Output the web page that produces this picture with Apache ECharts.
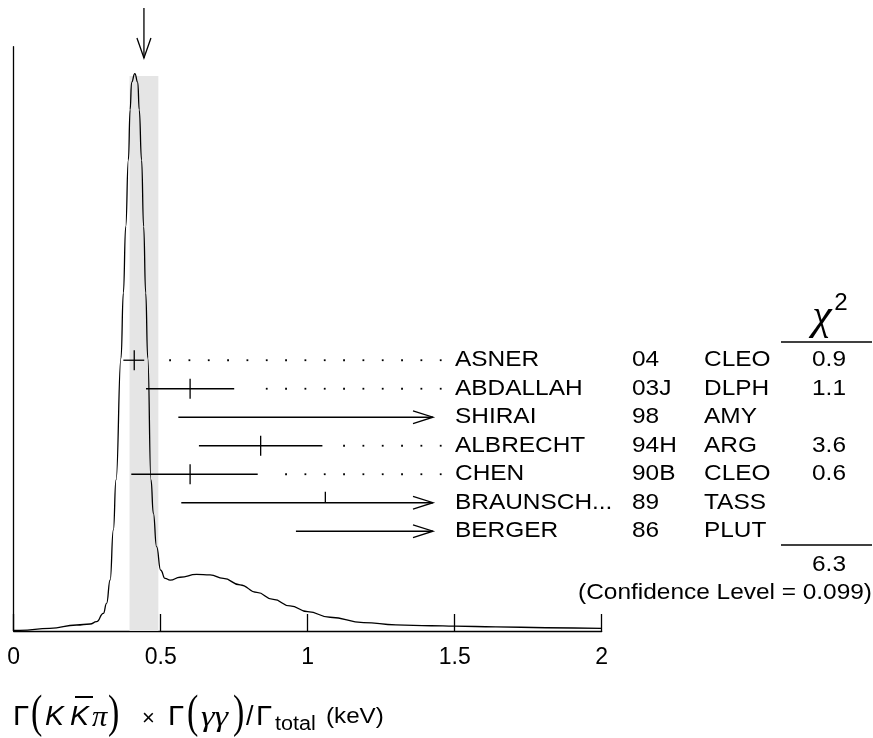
<!DOCTYPE html>
<html><head><meta charset="utf-8">
<script src="https://cdn.jsdelivr.net/npm/echarts@6/dist/echarts.min.js"></script>
<style>html,body{margin:0;padding:0;background:#fff}#c{width:873px;height:738px}</style>
</head><body><div id="c"></div>
<script>
// ---------- data ----------
const xTickLabels = ['0', '0.5', '1', '1.5', '2'];

// ideogram curve (x in keV, y in relative height units, 0..100 = axis)
const curveX = [0, 0.021, 0.123, 0.214, 0.26, 0.282, 0.305, 0.316, 0.328, 0.339, 0.348, 0.365, 0.373, 0.381, 0.390, 0.396, 0.401, 0.412, 0.422, 0.427, 0.435, 0.442, 0.449, 0.456, 0.467, 0.475, 0.486, 0.5, 0.515, 0.532, 0.566, 0.622, 0.668, 0.713, 0.77, 0.827, 0.883, 0.94, 1.0, 1.076, 1.19, 1.30, 1.42, 1.5, 1.64, 1.81, 2.0];
const curveY = [0.09, 0.12, 0.46, 1.03, 1.2, 1.59, 3.03, 4.74, 8.73, 17.29, 25.85, 46.72, 57.85, 69.2, 80.6, 89.2, 93.9, 95.4, 93.9, 89.2, 80.6, 69.2, 57.85, 46.72, 25.85, 20.14, 14.43, 10.4, 9.0, 8.7, 9.2, 9.7, 9.6, 9.0, 7.9, 6.6, 5.4, 4.3, 3.3, 2.35, 1.45, 1.05, 0.9, 0.82, 0.72, 0.56, 0.45];

const avgValue = 0.443;
const avgError = 0.049;
const bandTop = 95;

const names = ['ASNER', 'ABDALLAH', 'SHIRAI', 'ALBRECHT', 'CHEN', 'BRAUNSCH...', 'BERGER'];
const years = ['04', '03J', '98', '94H', '90B', '89', '86'];
const experiments = ['CLEO', 'DLPH', 'AMY', 'ARG', 'CLEO', 'TASS', 'PLUT'];
const chi2 = ['0.9', '1.1', '', '3.6', '0.6', '', ''];
const rowValue = [0.41, 0.60, null, 0.84, 0.60, 1.06, null];
const rowLow = [0.373, 0.45, 0.56, 0.63, 0.40, 0.57, 0.96];
const rowHigh = [0.444, 0.75, null, 1.05, 0.83, null, null];
const chi2Total = '6.3';
const confidenceText = '(Confidence Level = 0.099)';
const averageText = '0.44\u00b10.05 (Error scaled by 1.0)';

// ---------- layout ----------
const FONT = 'Liberation Sans';
const SERIF = 'Liberation Serif';
const SX = 1.11;
const NAME_X = 455, YEAR_X = 632, EXP_X = 704, CHI_X = 829;
const DOT_STEP = 19.33;
const INK = '#000';
const LW = 1.3;

function txt(text, x, y, opt) {
  opt = opt || {};
  return {
    type: 'text', x: x, y: y, scaleX: opt.scaleX == null ? SX : opt.scaleX, scaleY: opt.scaleY || 1,
    style: {
      text: text, fontSize: opt.size || 22, fontFamily: opt.family || FONT,
      fontStyle: opt.italic ? 'italic' : 'normal', fill: INK,
      align: opt.align || 'left', verticalAlign: 'middle'
    }
  };
}

const chart = echarts.init(document.getElementById('c'), null, {renderer: 'canvas'});

function renderBand(params, api) {
  const p0 = api.coord([avgValue - avgError, 0]);
  const p1 = api.coord([avgValue + avgError, bandTop]);
  const pa = api.coord([avgValue, bandTop]);
  const tipY = p1[1] - 18;
  const topY = tipY - 50;
  return {
    type: 'group',
    children: [
      {type: 'rect', shape: {x: p0[0], y: p1[1], width: p1[0] - p0[0], height: p0[1] - p1[1]}, style: {fill: '#e5e5e5'}},
      {type: 'line', shape: {x1: pa[0], y1: topY, x2: pa[0], y2: tipY}, style: {stroke: INK, lineWidth: LW}},
      {type: 'polyline', shape: {points: [[pa[0] - 7, tipY - 20], [pa[0], tipY], [pa[0] + 7, tipY - 20]]}, style: {stroke: INK, lineWidth: LW, fill: null}}
    ]
  };
}

function renderRow(params, api) {
  const i = params.dataIndex;
  const y = api.coord([0, i])[1];
  const ls = {stroke: INK, lineWidth: LW};
  const children = [];
  const lowPx = api.coord([rowLow[i], i])[0];
  if (rowHigh[i] != null) {
    const highPx = api.coord([rowHigh[i], i])[0];
    children.push({type: 'line', shape: {x1: lowPx, y1: y, x2: highPx, y2: y}, style: ls});
    for (let d = NAME_X - 14.3; d > highPx + 18; d -= DOT_STEP) {
      children.push({type: 'rect', shape: {x: d - 0.9, y: y - 0.9, width: 1.8, height: 1.8}, style: {fill: INK}});
    }
  } else {
    const tip = NAME_X - 22;
    children.push({type: 'line', shape: {x1: lowPx, y1: y, x2: tip, y2: y}, style: ls});
    children.push({type: 'polyline', shape: {points: [[tip - 20, y - 6.3], [tip, y], [tip - 20, y + 6.3]]}, style: {stroke: INK, lineWidth: LW, fill: null}});
  }
  if (rowValue[i] != null) {
    const c = api.coord([rowValue[i], i])[0];
    const full = rowHigh[i] != null;
    children.push({type: 'line', shape: {x1: c, y1: y - (full ? 10 : 11), x2: c, y2: full ? y + 10 : y}, style: ls});
  }
  children.push(txt(names[i], NAME_X, y));
  children.push(txt(years[i], YEAR_X, y));
  children.push(txt(experiments[i], EXP_X, y));
  if (chi2[i]) children.push(txt(chi2[i], CHI_X, y, {align: 'center'}));
  return {type: 'group', children: children};
}

// axis title pieces
const TY = 717.5;
const PY = 715;
const titleEls = [
  txt('\u0393', 13, TY, {size: 27, scaleX: 1.08}),
  txt('(', 31, PY, {size: 34, family: SERIF, scaleX: 1, scaleY: 1.35}),
  txt('K', 45, TY, {size: 27, italic: true, scaleX: 1.05}),
  txt('K', 70, TY, {size: 27, italic: true, scaleX: 1.05}),
  {type: 'line', shape: {x1: 75, y1: 697, x2: 93, y2: 697}, style: {stroke: INK, lineWidth: 2}},
  txt('\u03c0', 92, TY + 1, {size: 29, family: SERIF, italic: true, scaleX: 1.05}),
  txt(')', 108, PY, {size: 34, family: SERIF, scaleX: 1, scaleY: 1.35}),
  txt('\u00d7', 142, TY + 1, {size: 22, scaleX: 1}),
  txt('\u0393', 168, TY, {size: 27, scaleX: 1.08}),
  txt('(', 187, PY, {size: 34, family: SERIF, scaleX: 1, scaleY: 1.35}),
  txt('\u03b3\u03b3', 201, TY + 1, {size: 30, family: SERIF, italic: true, scaleX: 1.15}),
  txt(')', 233, PY, {size: 34, family: SERIF, scaleX: 1, scaleY: 1.35}),
  txt('/', 246, TY, {size: 27, scaleX: 1}),
  txt('\u0393', 256, TY, {size: 27, scaleX: 1.08}),
  txt('total', 275, TY + 7, {size: 20, scaleX: 1.08}),
  txt('(keV)', 326, TY - 1, {size: 22, scaleX: 1.1})
];

const option = {
  animation: false,
  backgroundColor: '#fff',
  grid: {left: 13.7, right: 271.3, top: 46.7, bottom: 107, containLabel: false},
  xAxis: {
    type: 'value', min: 0, max: 2, interval: 0.5,
    axisLine: {show: true, onZero: false, lineStyle: {color: INK, width: LW}},
    axisTick: {show: true, inside: true, length: 17, lineStyle: {color: INK, width: LW}},
    axisLabel: {show: true, color: INK, fontSize: 23, fontFamily: FONT, margin: 15,
      formatter: function (v) { return xTickLabels[Math.round(v / 0.5)]; }},
    splitLine: {show: false}
  },
  yAxis: [
    {type: 'value', min: 0, max: 100,
      axisLine: {show: true, lineStyle: {color: INK, width: LW}},
      axisTick: {show: false}, axisLabel: {show: false}, splitLine: {show: false}},
    {type: 'value', min: -11, max: 9.5, inverse: true, show: false,
      axisLine: {show: false}, axisTick: {show: false}, axisLabel: {show: false}, splitLine: {show: false}}
  ],
  series: [
    {type: 'custom', z: 1, xAxisIndex: 0, yAxisIndex: 0, clip: false,
      data: [[avgValue, bandTop]], renderItem: renderBand, silent: true},
    {type: 'line', z: 2, xAxisIndex: 0, yAxisIndex: 0, showSymbol: false, symbol: 'none',
      smooth: 0.5, smoothMonotone: 'x',
      lineStyle: {color: INK, width: LW},
      data: curveX.map(function (x, k) { return [x, curveY[k]]; }), silent: true},
    {type: 'custom', z: 3, xAxisIndex: 0, yAxisIndex: 1, clip: false,
      data: names.map(function (n, k) { return [rowLow[k], k]; }), renderItem: renderRow, silent: true}
  ],
  graphic: [
    {type: 'group', silent: true, children: [
      txt(averageText, 0, -11.5),
      txt('\u03c7', 822, 317, {size: 44, family: SERIF, italic: true, scaleX: 1, align: 'center'}),
      txt('2', 841, 304, {size: 23, scaleX: 1.05, align: 'center'}),
      {type: 'line', shape: {x1: 781, y1: 342, x2: 872, y2: 342}, style: {stroke: INK, lineWidth: LW}},
      {type: 'line', shape: {x1: 781, y1: 545, x2: 872, y2: 545}, style: {stroke: INK, lineWidth: LW}},
      txt(chi2Total, CHI_X, 565, {align: 'center'}),
      {type: 'text', x: 872, y: 593, scaleX: SX, style: {text: confidenceText, fontSize: 22, fontFamily: FONT, fill: INK, align: 'right', verticalAlign: 'middle'}}
    ].concat(titleEls)}
  ]
};
chart.setOption(option);
</script></body></html>
